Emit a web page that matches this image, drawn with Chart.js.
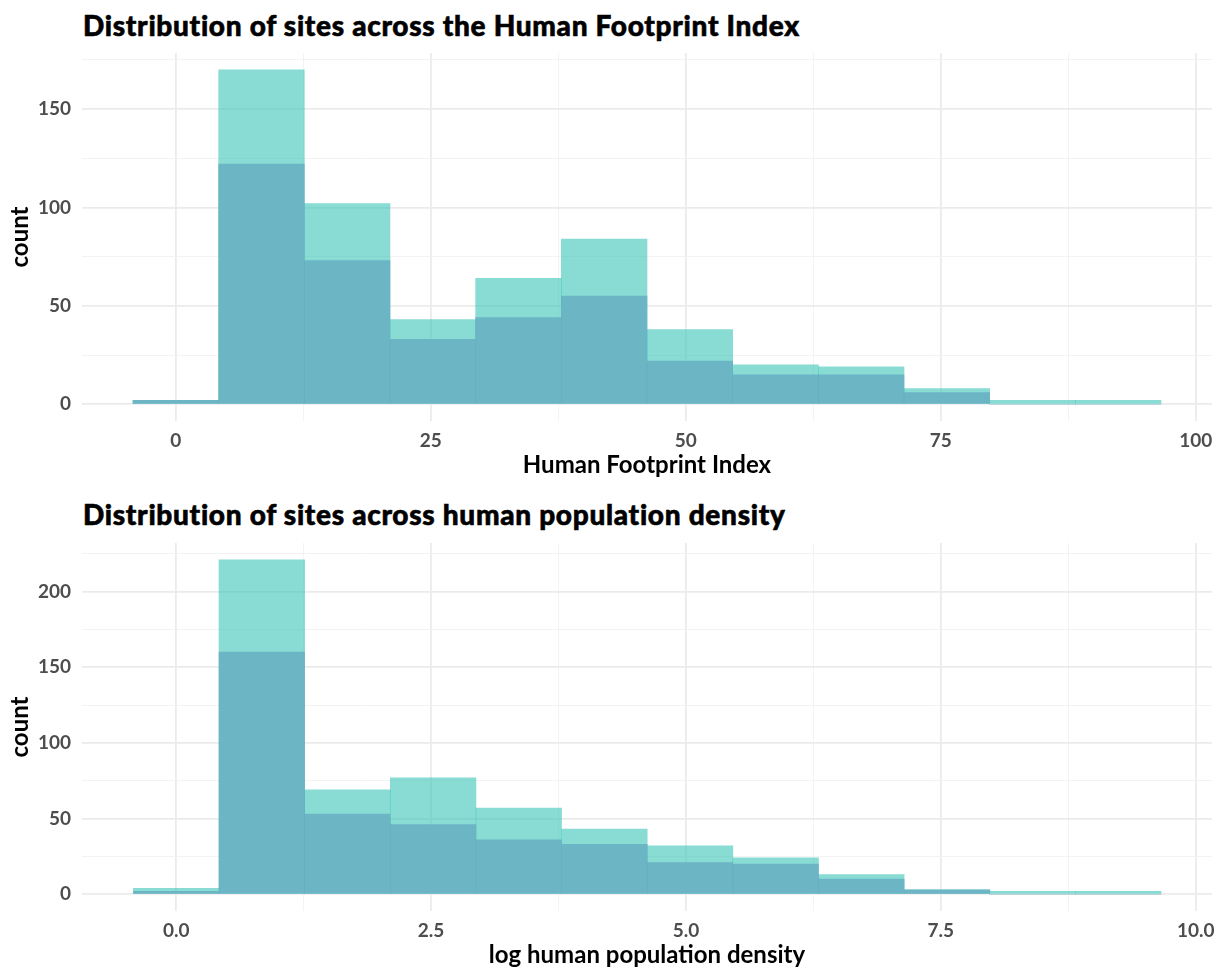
<!DOCTYPE html>
<html>
<head>
<meta charset="utf-8">
<script src="https://cdn.jsdelivr.net/npm/chart.js@4.4.1/dist/chart.umd.min.js"></script>
<style>
  body { margin: 0; background: #fff; }
  #wrap { position: relative; width: 1224px; height: 970px; overflow: hidden; }
  .ttl { position: absolute; left: 83px; font-family: Lato, sans-serif; font-weight: 900; font-size: 28px; letter-spacing: 0.7px; color: #000; white-space: nowrap; font-variant-ligatures: none; -webkit-text-stroke: 0.6px #000; }
  canvas { position: absolute; left: 0; }
</style>
</head>
<body>
<div id="wrap">
  <div class="ttl" style="top:8px">Distribution of sites across the Human Footprint Index</div>
  <canvas id="hfi" width="1224" height="440" style="top:40px"></canvas>
  <div class="ttl" style="top:497px">Distribution of sites across human population density</div>
  <canvas id="pop" width="1224" height="440" style="top:530px"></canvas>
</div>
<script>
// bin centres
let hfiBins = [0, 8.4, 16.8, 25.2, 33.6, 42, 50.4, 58.8, 67.2, 75.6, 84, 92.4];
let popBins = [0, 0.84, 1.68, 2.52, 3.36, 4.2, 5.04, 5.88, 6.72, 7.56, 8.4, 9.24];

// counts: all sites (light) and the subset (dark)
let hfiAll    = [2, 170, 102, 43, 64, 84, 38, 20, 19, 8, 2, 2];
let hfiSubset = [2, 122, 73, 33, 44, 55, 22, 15, 15, 6, 0, 0];
let popAll    = [4, 221, 69, 77, 57, 43, 32, 24, 13, 3, 2, 2];
let popSubset = [2, 160, 53, 46, 36, 33, 21, 20, 10, 3, 0, 0];

// axis ticks (labelled + minor grid)
let hfiXTicks = [0, 12.5, 25, 37.5, 50, 62.5, 75, 87.5, 100];
let hfiYTicks = [0, 25, 50, 75, 100, 125, 150, 175];
let popXTicks = [0, 1.25, 2.5, 3.75, 5, 6.25, 7.5, 8.75, 10];
let popYTicks = [0, 25, 50, 75, 100, 125, 150, 175, 200, 225];

const LIGHT = 'rgba(57,197,183,0.6)';
const DARK = 'rgba(101,172,194,0.8)';
const tickFont = { family: 'Lato', weight: 'bold', size: 19 };
const titleFont = { family: 'Lato', weight: 'bold', size: 24 };

function pts(xs, ys) {
    return xs.map((x, i) => ({ x: x, y: ys[i] }));
}

function isMajor(v, step) {
    return Math.abs(v / step - Math.round(v / step)) < 1e-6;
}

function histConfig(bins, all, sub, xTicks, yTicks, xr, yr, xMajor, yMajor, xTitle, xDigits) {
    let gridW = (step) => (c) => (c.tick && !isMajor(c.tick.value, step) ? 0.9 : 1.8);
    let gridC = (step) => (c) => (c.tick && !isMajor(c.tick.value, step) ? '#f2f2f2' : '#ebebeb');
    return {
        type: 'bar',
        data: {
            datasets: [
                { label: 'subset', data: pts(bins, sub), backgroundColor: DARK, order: 0 },
                { label: 'all', data: pts(bins, all), backgroundColor: LIGHT, order: 1 },
            ]
        },
        options: {
            responsive: false,
            animation: false,
            layout: { padding: { top: 13, right: 12, left: 0, bottom: 0 } },
            datasets: { bar: { grouped: false, barPercentage: 1, categoryPercentage: 1, borderWidth: 0 } },
            plugins: { legend: { display: false }, tooltip: { enabled: false } },
            scales: {
                x: {
                    type: 'linear', min: xr[0], max: xr[1], offset: false,
                    afterBuildTicks: (s) => { s.ticks = xTicks.map(v => ({ value: v })); },
                    afterFit: (s) => { s.height = 59; s.paddingLeft = 0; s.paddingRight = 0; },
                    grid: { offset: false, color: gridC(xMajor), lineWidth: gridW(xMajor), drawTicks: false },
                    border: { display: false },
                    ticks: {
                        autoSkip: false, maxRotation: 0, padding: 8, font: tickFont, color: '#4d4d4d',
                        callback: (v) => (isMajor(v, xMajor) ? v.toFixed(xDigits) : '')
                    },
                    title: { display: true, text: xTitle, font: titleFont, color: '#000', padding: { top: 0, bottom: 0 } }
                },
                y: {
                    min: yr[0], max: yr[1],
                    afterBuildTicks: (s) => { s.ticks = yTicks.map(v => ({ value: v })); },
                    afterFit: (s) => { s.width = 82; s.paddingTop = 0; s.paddingBottom = 0; },
                    grid: { color: gridC(yMajor), lineWidth: gridW(yMajor), drawTicks: false },
                    border: { display: false },
                    ticks: {
                        autoSkip: false, padding: 11, font: tickFont, color: '#4d4d4d',
                        callback: (v) => (isMajor(v, yMajor) ? v : '')
                    },
                    title: { display: true, text: 'count', font: titleFont, color: '#000', padding: { top: 6, bottom: 0 } }
                }
            }
        }
    };
}

new Chart(document.getElementById('hfi').getContext('2d'),
    histConfig(hfiBins, hfiAll, hfiSubset, hfiXTicks, hfiYTicks, [-9.2, 101.6], [-8.5, 178.5], 25, 50, 'Human Footprint Index', 0));
new Chart(document.getElementById('pop').getContext('2d'),
    histConfig(popBins, popAll, popSubset, popXTicks, popYTicks, [-0.924, 10.16], [-11.05, 232.05], 2.5, 50, 'log human population density', 1));
</script>
</body>
</html>
